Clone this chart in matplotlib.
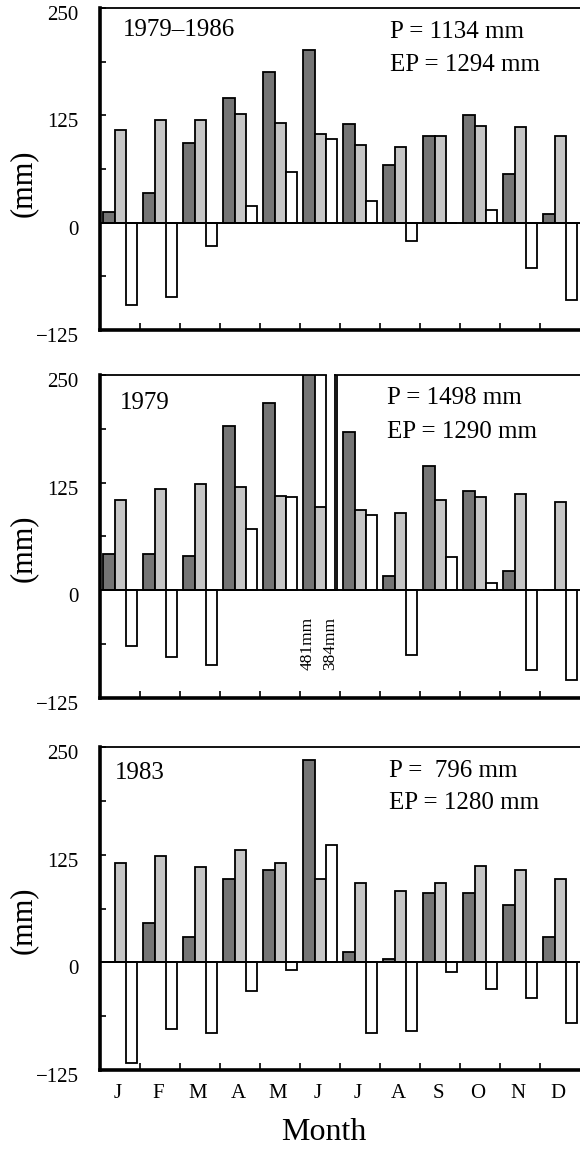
import matplotlib
matplotlib.use("Agg")
import matplotlib.pyplot as plt
import matplotlib.transforms as mtransforms
import numpy as np

plt.rcParams['font.family'] = ['Liberation Serif', 'DejaVu Serif']

months = ['J', 'F', 'M', 'A', 'M', 'J', 'J', 'A', 'S', 'O', 'N', 'D']

# Panel 1: 1979-1986 mean
p_8686 = [13, 35, 93, 145, 175, 201, 115, 67, 101, 125, 57, 10]
ep_8686 = [108, 120, 120, 126, 116, 103, 91, 88, 101, 113, 111, 101]
d_8686 = [-96, -86, -27, 19, 59, 98, 25, -21, 0, 15, -53, -90]

# Panel 2: 1979
p_1979 = [42, 42, 40, 191, 218, 481, 184, 17, 144, 115, 22, 0]
ep_1979 = [105, 118, 123, 120, 110, 97, 93, 90, 105, 108, 112, 103]
d_1979 = [-65, -77, -87, 71, 108, 384, 88, -75, 39, 8, -92, -104]

# Panel 3: 1983
p_1983 = [0, 46, 29, 97, 107, 235, 12, 4, 80, 80, 66, 29]
ep_1983 = [115, 124, 111, 130, 115, 97, 92, 83, 92, 112, 107, 97]
d_1983 = [-117, -77, -82, -33, -9, 136, -82, -80, -11, -31, -41, -70]

titles = ['1979\u20131986', '1979', '1983']
p_text = ['P = 1134 mm', 'P = 1498 mm', 'P =  796 mm']
ep_text = ['EP = 1294 mm', 'EP = 1290 mm', 'EP = 1280 mm']
yticks = [250, 187.5, 125, 62.5, 0, -62.5, -125]
ytick_labels = ['250', '', '125', '', '0', '', '\u2212125']

data = [(p_8686, ep_8686, d_8686), (p_1979, ep_1979, d_1979), (p_1983, ep_1983, d_1983)]

W, H = 580, 1149
fig = plt.figure(figsize=(W / 100, H / 100), dpi=100)

panels_px = [(8, 330), (375, 698), (747, 1070)]
left = 100 / W
width = 480 / W

title_pos = [(0.048, 0.932), (0.042, 0.913), (0.031, 0.92)]
p_pos = [(0.604, 0.925, 0.823), (0.598, 0.929, 0.824), (0.602, 0.926, 0.827)]
ylab_y = [183, 548, 920]

bw = 0.285
x0 = np.arange(12)
for i, ((top, bot), (p, ep, d)) in enumerate(zip(panels_px, data)):
    ax = fig.add_axes([left, 1 - bot / H, width, (bot - top) / H])
    ax.bar(x0 + 0.08 + bw * 0.5, p, width=bw, color='#757575', edgecolor='black', linewidth=1.3, zorder=3)
    ax.bar(x0 + 0.08 + bw * 1.5, ep, width=bw, color='#c6c6c6', edgecolor='black', linewidth=1.3, zorder=3)
    ax.bar(x0 + 0.08 + bw * 2.5, d, width=bw, color='white', edgecolor='black', linewidth=1.3, zorder=3)
    ax.axhline(0, color='black', lw=1.4, zorder=4)
    ax.set_xlim(0, 12)
    ax.set_ylim(-125, 250)
    ax.set_yticks(yticks)
    ax.set_yticklabels(ytick_labels, fontsize=15)
    ax.tick_params(axis='y', direction='in', length=4, width=1.2, pad=15.5)
    offset = mtransforms.ScaledTranslation(0, -5 / 100, fig.dpi_scale_trans)
    for lab in ax.get_yticklabels():
        lab.set_transform(lab.get_transform() + offset)
    ax.set_xticks(np.arange(1, 12))
    ax.set_xticklabels([])
    ax.tick_params(axis='x', direction='in', length=5, width=1.2)
    ax.spines['right'].set_visible(False)
    ax.spines['left'].set_linewidth(2.6)
    ax.spines['bottom'].set_linewidth(2.6)
    ax.spines['top'].set_linewidth(1.3)
    ax.spines['left'].set_zorder(6)
    ax.spines['bottom'].set_zorder(6)
    if i == 1:
        ax.spines['top'].set_visible(False)
        ax.plot([0, 5.65], [250, 250], color='black', lw=1.3, clip_on=False, zorder=6)
        ax.plot([5.875, 12], [250, 250], color='black', lw=1.3, clip_on=False, zorder=6)
        ax.plot([5.875, 5.875], [0, 250], color='black', lw=1.3, clip_on=False, zorder=6)
        ax.text(5.2, -62, '481mm', rotation=90, ha='center', va='center', fontsize=12.5)
        ax.text(5.75, -62, '384mm', rotation=90, ha='center', va='center', fontsize=12.5)
    ax.text(title_pos[i][0], title_pos[i][1], titles[i], transform=ax.transAxes,
            ha='left', va='center', fontsize=18)
    ax.text(p_pos[i][0], p_pos[i][1], p_text[i], transform=ax.transAxes,
            ha='left', va='center', fontsize=18)
    ax.text(p_pos[i][0], p_pos[i][2], ep_text[i], transform=ax.transAxes,
            ha='left', va='center', fontsize=18)
    fig.text(23 / W, 1 - ylab_y[i] / H, '(mm)', rotation=90, ha='center', va='center', fontsize=22)
    if i == 2:
        ax.set_xticks(x0 + 0.45, minor=True)
        ax.set_xticklabels(months, minor=True, fontsize=15)
        ax.tick_params(axis='x', which='minor', length=0, pad=10)

fig.text(324 / W, 1 - 1132 / H, 'Month', ha='center', va='center', fontsize=23)

fig.savefig('out.png', dpi=100)
